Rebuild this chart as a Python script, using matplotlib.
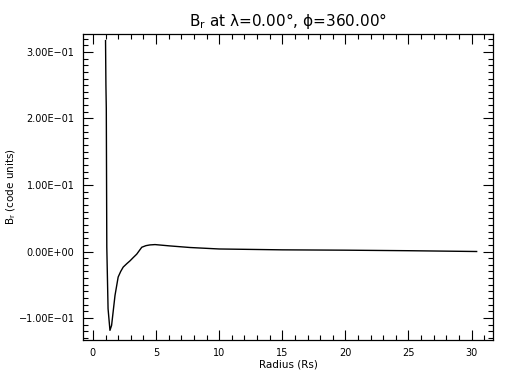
import matplotlib
matplotlib.use("Agg")
import matplotlib.pyplot as plt
from matplotlib.ticker import MultipleLocator, FuncFormatter

# radius (Rs) and B_r (code units)
radius = [1.0, 1.03, 1.06, 1.1, 1.2, 1.35, 1.48, 1.75, 2.0, 2.2, 2.4, 2.7,
          2.94, 3.2, 3.47, 3.7, 3.87, 4.2, 4.52, 4.92, 6.1, 7.7, 10.0,
          15.0, 20.0, 25.0, 30.4]
b_r = [0.317, 0.25, 0.215, 0.0064, -0.086, -0.1185, -0.111, -0.066, -0.0384,
       -0.030, -0.0234, -0.018, -0.014, -0.009, -0.004, 0.002, 0.0064,
       0.0088, 0.0099, 0.0104, 0.0084, 0.006, 0.0038, 0.0025, 0.002,
       0.0012, 0.0]

y_ticks = [-0.1, 0.0, 0.1, 0.2, 0.3]


def sci(v, pos):
    s = "%.2E" % v
    return s.replace("-", "\u2212")


fig = plt.figure(figsize=(5.12, 3.84), dpi=100)
ax = fig.add_axes([0.162, 0.1146, 0.801, 0.797])

ax.plot(radius, b_r, color="black", lw=1)

ax.set_xlim(-0.79, 31.7)
ax.set_ylim(-0.133, 0.327)
ax.set_yticks(y_ticks)
ax.yaxis.set_major_formatter(FuncFormatter(sci))
ax.xaxis.set_major_locator(MultipleLocator(5))
ax.xaxis.set_minor_locator(MultipleLocator(1))
ax.yaxis.set_minor_locator(MultipleLocator(0.01))

ax.tick_params(which="both", direction="in", top=True, right=True,
               labelsize=7, width=0.8)
ax.tick_params(which="major", length=7, pad=6)
ax.tick_params(which="minor", length=3.5)
for sp in ax.spines.values():
    sp.set_linewidth(0.9)

ax.set_xlabel("Radius (Rs)", fontsize=7.5, labelpad=1)
ax.set_ylabel("B$_\\mathrm{r}$ (code units)", fontsize=7.5)
ax.yaxis.set_label_coords(-0.158, 0.5)
ax.set_title("B$_\\mathrm{r}$ at \u03bb=0.00\u00b0, \u03d5=360.00\u00b0",
             fontsize=11, pad=6)

plt.savefig("out.png", dpi=100)
